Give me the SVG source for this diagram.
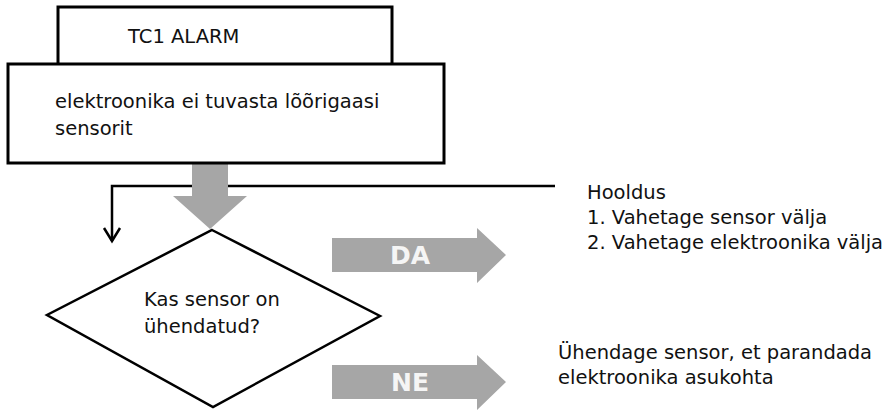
<svg xmlns="http://www.w3.org/2000/svg" width="895" height="412" viewBox="0 0 895 412">
<defs>
<style>
.box{fill:#fff;stroke:#000;stroke-width:3}
.dia{fill:#fff;stroke:#000;stroke-width:2.5;stroke-linejoin:miter}
.t{font-family:"DejaVu Sans",Verdana,sans-serif;font-size:19.5px;fill:#111}
.g{fill:#a6a6a6}
.gt{font-family:"DejaVu Sans",Verdana,sans-serif;font-weight:bold;font-size:25px;fill:#f5f5f5;text-anchor:middle}
.ln{fill:none;stroke:#000;stroke-width:2.5}
</style>
</defs>
<g id="connectors">
<path class="ln" d="M555,186 H112 V241"/>
<path class="ln" d="M104,228 L112,241 L120,228"/>
<polygon class="g" points="192,163 228,163 228,196 247,196 210,229 173,196 192,196"/>
</g>
<g id="alarm">
<rect class="box" x="58" y="7" width="334" height="60"/>
<text class="t" x="128" y="43">TC1 ALARM</text>
</g>
<g id="problem">
<rect class="box" x="8" y="64" width="436" height="99"/>
<text class="t" x="55" y="108">elektroonika ei tuvasta lõõrigaasi</text>
<text class="t" x="55" y="135">sensorit</text>
</g>
<g id="decision">
<polygon class="dia" points="212,230 380,316 213,407 47,315"/>
<text class="t" x="144" y="306">Kas sensor on</text>
<text class="t" x="144" y="333">ühendatud?</text>
</g>
<g id="da">
<polygon class="g" points="332,238 477,238 477,228 506,255 477,283 477,272 332,272"/>
<text class="gt" x="410" y="264">DA</text>
</g>
<g id="ne">
<polygon class="g" points="332,365 477,365 477,355 506,382 477,410 477,399 332,399"/>
<text class="gt" x="410" y="391">NE</text>
</g>
<g id="hooldus">
<text class="t" x="587" y="199">Hooldus</text>
<text class="t" x="587" y="224">1. Vahetage sensor välja</text>
<text class="t" x="587" y="249">2. Vahetage elektroonika välja</text>
</g>
<g id="uhendage">
<text class="t" x="558" y="359">Ühendage sensor, et parandada</text>
<text class="t" x="558" y="384">elektroonika asukohta</text>
</g>
</svg>
